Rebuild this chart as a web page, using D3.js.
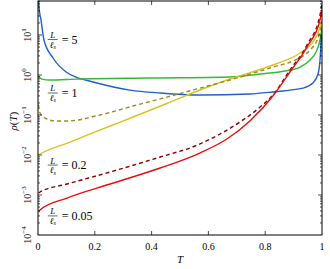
<!DOCTYPE html>
<html>
  <head>
    <meta charset="utf-8"/>
    <style>
    body {
      margin: 0;
      background: #fff;
    }
    text {
      font-family: "Liberation Serif", "DejaVu Serif", serif;
      fill: #000;
    }
    </style>
  </head>
  <body>
    <script src="https://d3js.org/d3.v7.min.js"></script>
    <script>
    var width = 330, height = 269;
    var margin = {left: 38, right: 8, top: 1, bottom: 34};

    // T values and rho(T), one pair of arrays per curve
    var blueT   = [0.001, 0.0035, 0.0106, 0.021, 0.053, 0.099, 0.134, 0.194, 0.324, 0.43, 0.57, 0.746, 0.827, 0.887, 0.933, 0.968, 0.986, 0.993, 0.998];
    var blueRho = [120, 50, 23.7, 7.5, 2.66, 1.19, 0.89, 0.67, 0.42, 0.355, 0.316, 0.335, 0.376, 0.42, 0.47, 0.63, 1.06, 2.37, 10];

    var greenT   = [0.001, 0.014, 0.042, 0.134, 0.394, 0.676, 0.782, 0.87, 0.923, 0.958, 0.979, 0.993, 1.0];
    var greenRho = [0.94, 0.79, 0.75, 0.79, 0.84, 0.89, 1.06, 1.26, 1.58, 2.37, 3.76, 7.5, 15.8];

    var yellowT   = [0.001, 0.007, 0.113, 0.254, 0.335, 0.454, 0.57, 0.676, 0.827, 0.923, 0.965, 0.986, 1.0];
    var yellowRho = [0.01, 0.0106, 0.0211, 0.0531, 0.0891, 0.194, 0.422, 0.794, 1.78, 3.55, 6.3, 11.2, 23.7];

    var oliveT   = [0.002, 0.007, 0.025, 0.06, 0.102, 0.218, 0.335, 0.454, 0.57, 0.676, 0.827, 0.905, 0.958, 0.986, 1.0];
    var oliveRho = [0.178, 0.112, 0.084, 0.071, 0.071, 0.1, 0.168, 0.28, 0.47, 0.75, 1.58, 2.37, 4.2, 8.4, 18.8];

    var redT   = [0.002, 0.007, 0.102, 0.254, 0.43, 0.57, 0.665, 0.746, 0.827, 0.887, 0.947, 0.993, 1.0];
    var redRho = [0.000376, 0.000422, 0.00084, 0.00188, 0.00473, 0.0112, 0.0251, 0.0708, 0.299, 1.19, 5.0, 23.7, 42];

    var darkT   = [0.002, 0.007, 0.102, 0.254, 0.43, 0.553, 0.641, 0.711, 0.782, 0.827, 0.887, 0.947, 0.993, 1.0];
    var darkRho = [0.00112, 0.00119, 0.00188, 0.00376, 0.0089, 0.0168, 0.0335, 0.0668, 0.158, 0.316, 1.33, 5.6, 31.6, 63];

    var xTicks = [0, 0.2, 0.4, 0.6, 0.8, 1];
    var xTickLabels = ["0", "0.2", "0.4", "0.6", "0.8", "1"];
    var yDecades = [-4, -3, -2, -1, 0, 1];

    var labelText = ["5", "1", "0.2", "0.05"];
    var labelRho = [7.7, 0.355, 0.0056, 0.0003];
    var labelT = 0.052;

    var curves = [
      {t: blueT, v: blueRho, color: "#2060c8", dash: null},
      {t: greenT, v: greenRho, color: "#33bb33", dash: null},
      {t: yellowT, v: yellowRho, color: "#dcc21e", dash: null},
      {t: oliveT, v: oliveRho, color: "#9c8a22", dash: "4,3"},
      {t: darkT, v: darkRho, color: "#8a0000", dash: "4,3"},
      {t: redT, v: redRho, color: "#e41010", dash: null}
    ];

    var x = d3.scaleLinear().domain([0, 1]).range([margin.left, width - margin.right]);
    var y = d3.scaleLog().domain([1e-4, Math.pow(10, 1.85)]).range([height - margin.bottom, margin.top]);

    var svg = d3.select("body").append("svg")
        .attr("width", width)
        .attr("height", height);

    svg.append("clipPath").attr("id", "clip")
      .append("rect")
        .attr("x", x(0)).attr("y", y.range()[1])
        .attr("width", x(1) - x(0))
        .attr("height", y.range()[0] - y.range()[1]);

    var line = d3.line()
        .x(function(d) { return x(d[0]); })
        .y(function(d) { return y(d[1]); })
        .curve(d3.curveMonotoneX);

    var g = svg.append("g").attr("clip-path", "url(#clip)");

    curves.forEach(function(c) {
      g.append("path")
          .datum(d3.zip(c.t, c.v))
          .attr("d", line)
          .attr("fill", "none")
          .attr("stroke", c.color)
          .attr("stroke-width", 1.4)
          .attr("stroke-dasharray", c.dash);
    });

    // ticks, pointing inward on all four sides
    var ticks = svg.append("g").attr("stroke", "#000").attr("stroke-width", 0.7);

    xTicks.slice(1, -1).forEach(function(t) {
      ticks.append("line").attr("x1", x(t)).attr("x2", x(t)).attr("y1", y.range()[0]).attr("y2", y.range()[0] - 4);
      ticks.append("line").attr("x1", x(t)).attr("x2", x(t)).attr("y1", y.range()[1]).attr("y2", y.range()[1] + 4);
    });

    var yMinor = y.ticks().filter(function(v) { return v > 1e-4; });
    yMinor.forEach(function(v) {
      var major = Math.abs(Math.log10(v) - Math.round(Math.log10(v))) < 1e-6;
      var len = major ? 4 : 2;
      ticks.append("line").attr("x1", x(0)).attr("x2", x(0) + len).attr("y1", y(v)).attr("y2", y(v));
      ticks.append("line").attr("x1", x(1)).attr("x2", x(1) - len).attr("y1", y(v)).attr("y2", y(v));
    });

    svg.append("rect")
        .attr("x", x(0)).attr("y", y.range()[1])
        .attr("width", x(1) - x(0))
        .attr("height", y.range()[0] - y.range()[1])
        .attr("fill", "none")
        .attr("stroke", "#000")
        .attr("stroke-width", 1);

    // x tick labels
    svg.selectAll(".xl")
        .data(xTicks)
      .enter().append("text")
        .attr("x", function(d) { return x(d); })
        .attr("y", y.range()[0] + 15)
        .attr("text-anchor", "middle")
        .attr("font-size", 10)
        .text(function(d, i) { return xTickLabels[i]; });

    // y tick labels, rotated
    yDecades.forEach(function(e) {
      var t = svg.append("text")
          .attr("transform", "translate(" + (x(0) - 7) + "," + y(Math.pow(10, e)) + ") rotate(-90)")
          .attr("text-anchor", "middle")
          .attr("font-size", 10);
      t.append("tspan").text("10");
      t.append("tspan").attr("dy", -5).attr("font-size", 7).text(e < 0 ? "\u2212" + (-e) : e);
    });

    svg.append("text")
        .attr("x", x(0.5))
        .attr("y", height - 6)
        .attr("text-anchor", "middle")
        .attr("font-size", 11)
        .attr("font-style", "italic")
        .text("T");

    var yl = svg.append("text")
        .attr("transform", "translate(17," + y(0.07) + ") rotate(-90)")
        .attr("text-anchor", "middle")
        .attr("font-size", 11);
    yl.append("tspan").attr("font-style", "italic").text("\u03c1");
    yl.append("tspan").text("(");
    yl.append("tspan").attr("font-style", "italic").text("T");
    yl.append("tspan").text(")");

    // curve labels L/l_s = ...
    labelText.forEach(function(s, i) {
      var cx = x(labelT), cy = y(labelRho[i]);
      var lg = svg.append("g");
      lg.append("text").attr("x", cx).attr("y", cy - 1.5).attr("text-anchor", "middle")
          .attr("font-size", 9).attr("font-style", "italic").text("L");
      lg.append("line").attr("x1", cx - 5).attr("x2", cx + 5).attr("y1", cy).attr("y2", cy)
          .attr("stroke", "#000").attr("stroke-width", 0.6);
      var d = lg.append("text").attr("x", cx).attr("y", cy + 8).attr("text-anchor", "middle")
          .attr("font-size", 9).attr("font-style", "italic");
      d.append("tspan").text("\u2113");
      d.append("tspan").attr("font-size", 6).attr("dy", 1.5).text("s");
      lg.append("text").attr("x", cx + 9).attr("y", cy + 4)
          .attr("font-size", 12).text("= " + s);
    });
    </script>
  </body>
</html>
